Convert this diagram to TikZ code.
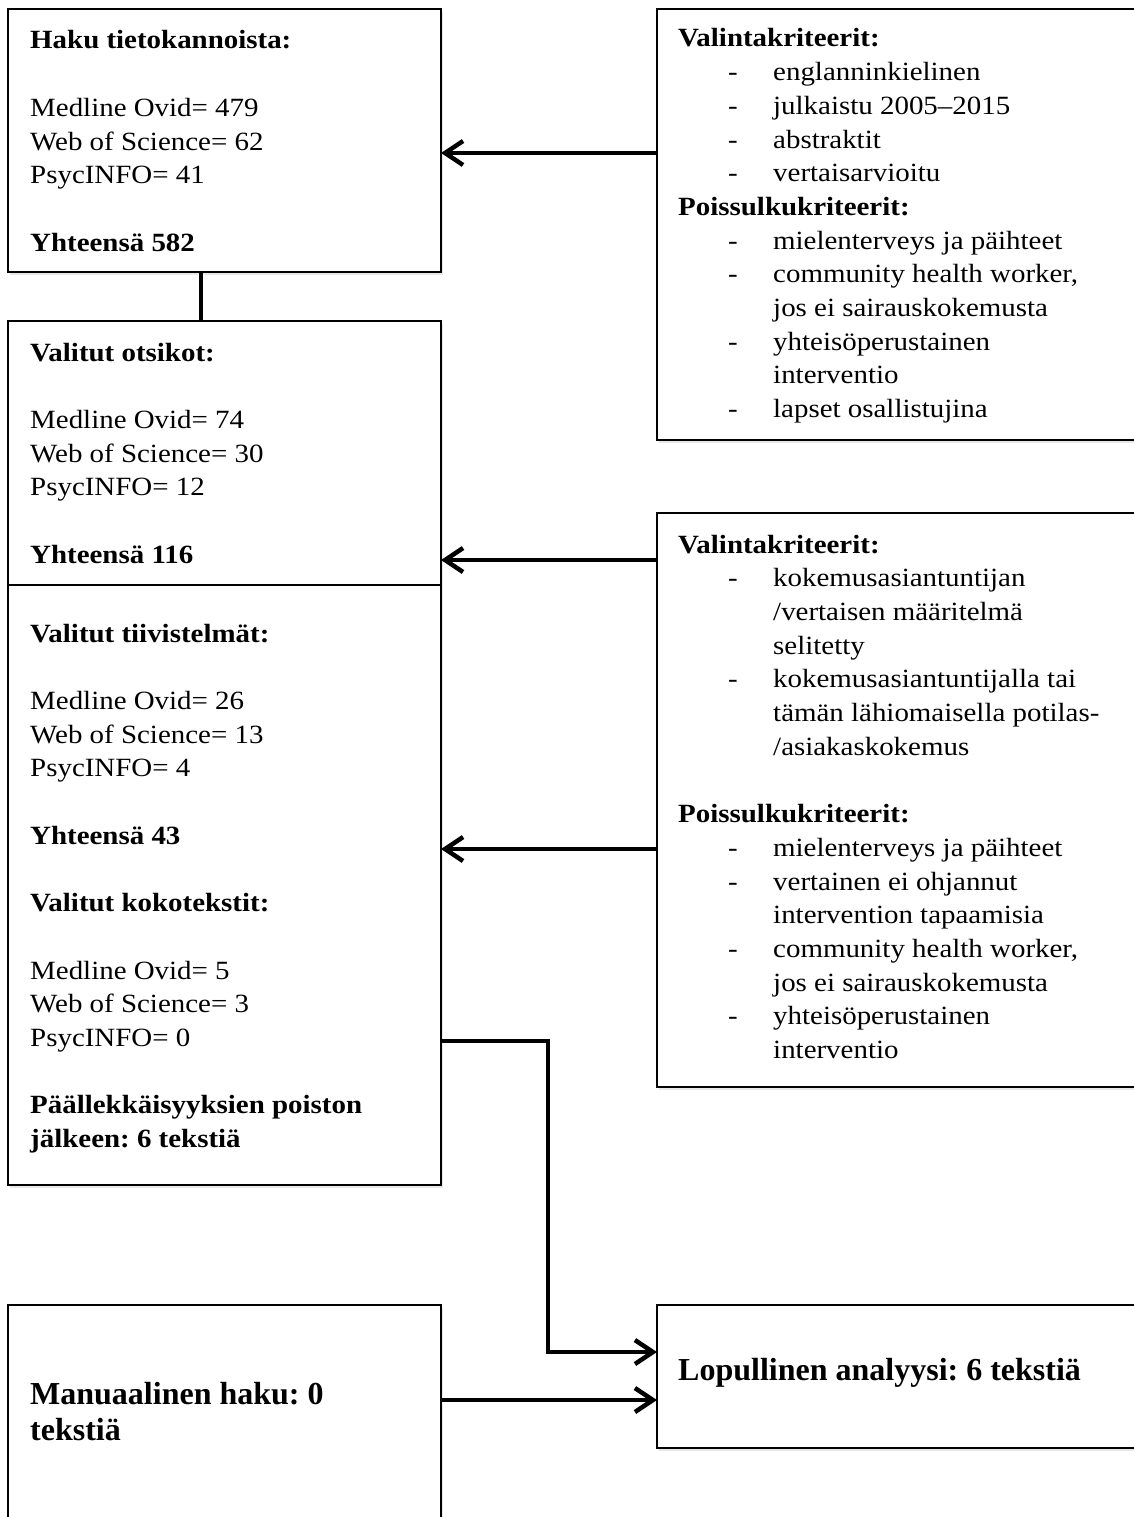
\documentclass[tikz,border=0pt]{standalone}
\usepackage{fontspec}
\setmainfont{Liberation Serif}[FakeStretch=1.1]
\newfontfamily\bigserif{Liberation Serif}
\usetikzlibrary{arrows.meta,shadows}
\frenchspacing
\newcommand\tline[1]{\hbox{#1}}
\newcommand\titm[1]{\hbox{\hbox to 95pt{\hskip 50pt -\hfil}#1}}
\newcommand\tcnt[1]{\hbox{\hskip 95pt #1}}
\newcommand\blk{\hbox{}}
\tikzset{
  box/.style={draw, line width=2pt, fill=white, rectangle, inner sep=0pt, outer sep=0pt, anchor=north west,
    drop shadow={opacity=0.18, shadow xshift=2pt, shadow yshift=-3pt}},
  txt/.style={anchor=base west, inner sep=0pt, font=\frenchspacing\fontsize{26.3}{33.7}\selectfont},
  bigtxt/.style={anchor=base west, inner sep=0pt, font=\frenchspacing\bigserif\bfseries\fontsize{32}{36.5}\selectfont},
  conn/.style={line width=4.5pt},
  arr/.style={line width=4.5pt, -{Straight Barb[length=18pt, width=24pt]}}
}
\begin{document}
\begin{tikzpicture}[x=1pt, y=-1pt]
\useasboundingbox (0,0) rectangle (1134,1517);
% boxes
\node[box, minimum width=433pt, minimum height=263pt] (b1) at (8,9) {};
\node[box, minimum width=433pt, minimum height=264pt] (b2) at (8,321) {};
\node[box, minimum width=433pt, minimum height=600pt] (b3) at (8,585) {};
\node[box, minimum width=433pt, minimum height=240pt] (b4) at (8,1305) {};
\node[box, minimum width=500pt, minimum height=431pt] (r1) at (657,9) {};
\node[box, minimum width=500pt, minimum height=574pt] (r2) at (657,513) {};
\node[box, minimum width=500pt, minimum height=143pt] (r3) at (657,1305) {};
% texts
\node[txt] (t1) at (30,49) {\vtop{%
  \tline{\textbf{Haku tietokannoista:}}\blk
  \tline{Medline Ovid= 479}\tline{Web of Science= 62}\tline{PsycINFO= 41}\blk
  \tline{\textbf{Yhteensä 582}}}};
\node[txt] (t2) at (30,361) {\vtop{%
  \tline{\textbf{Valitut otsikot:}}\blk
  \tline{Medline Ovid= 74}\tline{Web of Science= 30}\tline{PsycINFO= 12}\blk
  \tline{\textbf{Yhteensä 116}}}};
\node[txt] (t3) at (30,642) {\vtop{%
  \tline{\textbf{Valitut tiivistelmät:}}\blk
  \tline{Medline Ovid= 26}\tline{Web of Science= 13}\tline{PsycINFO= 4}\blk
  \tline{\textbf{Yhteensä 43}}\blk
  \tline{\textbf{Valitut kokotekstit:}}\blk
  \tline{Medline Ovid= 5}\tline{Web of Science= 3}\tline{PsycINFO= 0}\blk
  \tline{\textbf{Päällekkäisyyksien poiston}}
  \tline{\textbf{jälkeen: 6 tekstiä}}}};
\node[txt] (tr1) at (678,47) {\vtop{%
  \tline{\textbf{Valintakriteerit:}}
  \titm{englanninkielinen}
  \titm{julkaistu 2005–2015}
  \titm{abstraktit}
  \titm{vertaisarvioitu}
  \tline{\textbf{Poissulkukriteerit:}}
  \titm{mielenterveys ja päihteet}
  \titm{community health worker,}
  \tcnt{jos ei sairauskokemusta}
  \titm{yhteisöperustainen}
  \tcnt{interventio}
  \titm{lapset osallistujina}}};
\node[txt] (tr2) at (678,553) {\vtop{%
  \tline{\textbf{Valintakriteerit:}}
  \titm{kokemusasiantuntijan}
  \tcnt{/vertaisen määritelmä}
  \tcnt{selitetty}
  \titm{kokemusasiantuntijalla tai}
  \tcnt{tämän lähiomaisella potilas-}
  \tcnt{/asiakaskokemus}\blk
  \tline{\textbf{Poissulkukriteerit:}}
  \titm{mielenterveys ja päihteet}
  \titm{vertainen ei ohjannut}
  \tcnt{intervention tapaamisia}
  \titm{community health worker,}
  \tcnt{jos ei sairauskokemusta}
  \titm{yhteisöperustainen}
  \tcnt{interventio}}};
\node[bigtxt] (tr3) at (678,1380) {Lopullinen analyysi: 6 tekstiä};
\node[bigtxt] (t4a) at (30,1404) {Manuaalinen haku: 0};
\node[bigtxt] (t4b) at (30,1440) {tekstiä};
% connectors
\draw[conn] (b1.south -| 201,0) -- (b2.north -| 201,0);
\draw[arr] (r1.west |- 0,153) -- (b1.east |- 0,153);
\draw[arr] (r2.west |- 0,560) -- (b2.east |- 0,560);
\draw[arr] (r2.west |- 0,849) -- (b3.east |- 0,849);
\draw[arr] (b3.east |- 0,1041) -| (548,1352) -- (r3.west |- 0,1352);
\draw[arr] (b4.east |- 0,1400) -- (r3.west |- 0,1400);
\end{tikzpicture}
\end{document}
